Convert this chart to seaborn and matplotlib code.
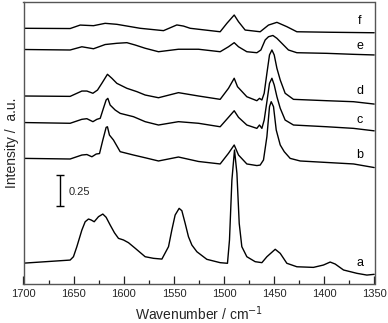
import matplotlib
matplotlib.use("Agg")
import matplotlib.pyplot as plt
import seaborn as sns
import pandas as pd
from matplotlib.ticker import MultipleLocator

# ---- data (wavenumber / cm^-1, stacked intensity / a.u.) ----
wn_a = [1700, 1653.5, 1650.2, 1646.8, 1641.8, 1638.5, 1635.2, 1632.5, 1629.5, 1625.2, 1620.9, 1617.6, 1613.6,
        1609.3, 1605.3, 1600.3, 1595.3, 1588.6, 1578.7, 1570.4, 1562.0, 1555.4, 1552.1, 1548.8, 1544.8, 1542.1,
        1538.8, 1535.5, 1532.1, 1527.1, 1517.2, 1503.9, 1496.6, 1494.6, 1492.2, 1489.6, 1487.2, 1484.9, 1482.3,
        1477.3, 1469.0, 1462.3, 1457.3, 1449.0, 1444.0, 1437.4, 1427.4, 1410.9, 1400.9, 1394.2, 1389.2, 1380.9,
        1367.5, 1357.6, 1350.3]
int_a = [0.090, 0.115, 0.142, 0.223, 0.357, 0.424, 0.446, 0.438, 0.424, 0.465, 0.486, 0.460, 0.398, 0.335,
         0.290, 0.277, 0.255, 0.210, 0.142, 0.129, 0.123, 0.223, 0.357, 0.478, 0.532, 0.513, 0.411, 0.303,
         0.236, 0.182, 0.121, 0.094, 0.089, 0.277, 0.760, 1.002, 0.815, 0.411, 0.223, 0.142, 0.102, 0.094,
         0.142, 0.202, 0.169, 0.089, 0.061, 0.056, 0.075, 0.099, 0.083, 0.035, 0.008, -0.006, 0.000]

wn_b = [1700, 1653.5, 1641.8, 1636.8, 1631.8, 1627.5, 1624.2, 1620.9, 1617.6, 1616.3, 1614.3, 1610.3, 1603.6,
        1590.3, 1578.7, 1565.4, 1545.5, 1525.5, 1503.9, 1495.6, 1489.9, 1485.6, 1477.3, 1467.3, 1464.0, 1460.7,
        1457.3, 1454.7, 1453.0, 1450.7, 1448.0, 1444.0, 1440.0, 1434.1, 1424.1, 1397.5, 1370.9, 1350.3]
int_b = [0.935, 0.930, 0.962, 0.966, 0.948, 0.970, 0.974, 1.083, 1.185, 1.190, 1.123, 1.083, 0.989, 0.962,
         0.940, 0.914, 0.946, 0.910, 0.890, 0.976, 1.043, 0.962, 0.890, 0.877, 0.881, 0.922, 1.110, 1.352,
         1.392, 1.352, 1.164, 1.043, 0.989, 0.935, 0.914, 0.902, 0.890, 0.861]

wn_c = [1700, 1653.5, 1641.8, 1636.8, 1630.8, 1626.8, 1623.5, 1620.3, 1617.6, 1615.9, 1613.6, 1608.6, 1603.6,
        1590.3, 1578.7, 1565.4, 1545.5, 1525.5, 1503.9, 1495.6, 1489.9, 1485.6, 1477.3, 1467.3, 1464.7, 1462.3,
        1460.0, 1457.3, 1454.7, 1452.3, 1450.0, 1447.3, 1444.0, 1439.1, 1430.8, 1397.5, 1370.9, 1350.3]
int_c = [1.224, 1.218, 1.250, 1.255, 1.231, 1.250, 1.258, 1.339, 1.406, 1.419, 1.365, 1.325, 1.298, 1.271,
         1.231, 1.204, 1.231, 1.218, 1.190, 1.266, 1.319, 1.266, 1.204, 1.177, 1.204, 1.177, 1.244, 1.392,
         1.540, 1.581, 1.527, 1.432, 1.339, 1.244, 1.204, 1.190, 1.177, 1.157]

wn_d = [1700, 1653.5, 1641.8, 1636.8, 1630.8, 1626.2, 1621.9, 1616.3, 1611.9, 1606.9, 1596.9, 1586.9, 1578.7,
        1565.4, 1545.5, 1525.5, 1503.9, 1495.6, 1489.9, 1486.6, 1477.3, 1467.3, 1464.7, 1462.3, 1460.0, 1457.3,
        1454.7, 1452.3, 1450.0, 1447.3, 1444.0, 1439.1, 1430.8, 1397.5, 1370.9, 1350.3]
int_d = [1.438, 1.435, 1.478, 1.478, 1.460, 1.486, 1.540, 1.613, 1.581, 1.540, 1.500, 1.473, 1.446, 1.424,
         1.465, 1.438, 1.411, 1.500, 1.581, 1.513, 1.432, 1.400, 1.419, 1.406, 1.460, 1.621, 1.769, 1.809,
         1.769, 1.661, 1.567, 1.460, 1.411, 1.400, 1.392, 1.373]

wn_e = [1700, 1653.5, 1641.8, 1630.2, 1618.6, 1606.9, 1596.9, 1588.6, 1578.7, 1565.4, 1545.5, 1525.5, 1503.9,
        1495.6, 1489.9, 1485.6, 1477.3, 1467.3, 1463.3, 1459.0, 1455.7, 1451.3, 1447.3, 1442.4, 1435.8, 1427.4,
        1397.5, 1370.9, 1350.3]
int_e = [1.813, 1.809, 1.835, 1.819, 1.853, 1.863, 1.868, 1.849, 1.823, 1.795, 1.815, 1.815, 1.795, 1.835,
         1.868, 1.835, 1.795, 1.787, 1.809, 1.890, 1.916, 1.926, 1.903, 1.863, 1.809, 1.787, 1.782, 1.774, 1.769]

wn_f = [1700, 1653.5, 1643.5, 1630.2, 1618.6, 1606.9, 1583.7, 1560.4, 1547.1, 1540.5, 1533.8, 1503.9, 1497.2,
        1489.9, 1485.6, 1479.0, 1464.0, 1455.7, 1447.3, 1437.4, 1427.4, 1394.2, 1350.3]
int_f = [1.984, 1.982, 2.010, 2.005, 2.024, 2.016, 1.984, 1.965, 2.011, 2.002, 1.984, 1.956, 2.024, 2.091,
         2.037, 1.970, 1.956, 2.010, 2.032, 1.997, 1.956, 1.952, 1.948]

spectra = ["a", "b", "c", "d", "e", "f"]
label_y = [0.094, 0.962, 1.244, 1.478, 1.841, 2.045]
x_ticks = [1700, 1650, 1600, 1550, 1500, 1450, 1400, 1350]
scale_value = 0.25

# ---- build long table ----
frames = []
for name, wn, inten in zip(spectra, [wn_a, wn_b, wn_c, wn_d, wn_e, wn_f],
                           [int_a, int_b, int_c, int_d, int_e, int_f]):
    frames.append(pd.DataFrame({"wavenumber": wn, "intensity": inten, "spectrum": name}))
df = pd.concat(frames, ignore_index=True)

sns.set_theme(style="white")
plt.rcParams["font.family"] = ["Liberation Sans", "DejaVu Sans"]

fig = plt.figure(figsize=(3.88, 3.23), dpi=100)
ax = fig.add_axes([23.5 / 388, 1 - 284 / 323, 351 / 388, 282 / 323])

sns.lineplot(data=df, x="wavenumber", y="intensity", hue="spectrum", units="spectrum",
             estimator=None, palette={s: "black" for s in spectra}, legend=False,
             linewidth=1.0, ax=ax)

ax.set_xlim(1700, 1350)
ax.set_ylim(-0.078, 2.196)
ax.set_xticks(x_ticks)
ax.set_xticklabels([str(t) for t in x_ticks])
ax.xaxis.set_minor_locator(MultipleLocator(25))
ax.set_yticks([])
ax.tick_params(axis="x", which="major", direction="in", length=5.8, width=0.9,
               color="#222222", labelsize=8, pad=3.5, bottom=True)
ax.tick_params(axis="x", which="minor", direction="in", length=2.9, width=0.9,
               color="#222222", bottom=True)

for sp in ax.spines.values():
    sp.set_visible(True)
    sp.set_color("#555555")
    sp.set_linewidth(1.0)

ax.set_xlabel("Wavenumber / cm$^{-1}$", fontsize=10, labelpad=4)
ax.set_ylabel("Intensity /  a.u.", fontsize=10, labelpad=3)

for name, yv in zip(spectra, label_y):
    ax.text(1364.8, yv, name, fontsize=9, ha="center", va="center", color="black")

# scale bar
ax.errorbar([1663.4], [0.676], yerr=[scale_value / 2], color="black", capsize=2.8,
            elinewidth=1.0, capthick=1.0, fmt="none")
ax.text(1655.2, 0.666, f"{scale_value:.2f}", fontsize=8, ha="left", va="center")

fig.savefig("out.png", dpi=100)
